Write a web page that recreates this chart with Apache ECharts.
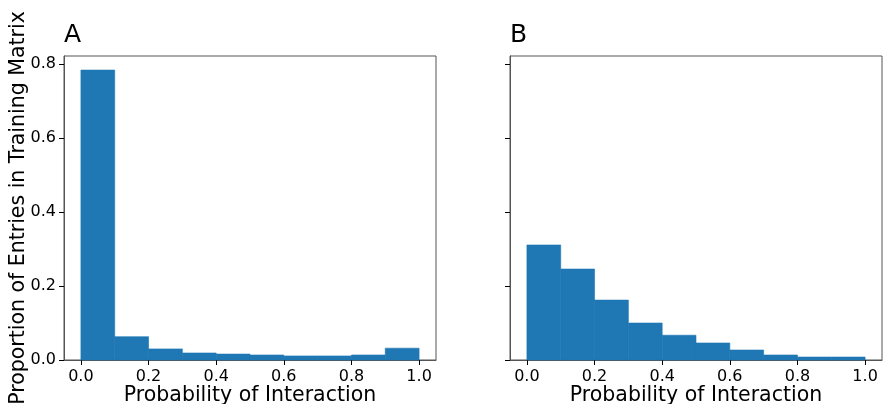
<!DOCTYPE html>
<html>
<head>
<meta charset="utf-8">
<script src="https://cdn.jsdelivr.net/npm/echarts@6/dist/echarts.min.js"></script>
<style>
html,body{margin:0;padding:0;background:#fff;}
#chart{width:883px;height:404px;}
</style>
</head>
<body>
<div id="chart"></div>
<script>
// Histogram bins (left edges), width 0.1
const binStarts = [0.0, 0.1, 0.2, 0.3, 0.4, 0.5, 0.6, 0.7, 0.8, 0.9];
const binWidth = 0.1;
// Panel A proportions
const valuesA = [0.784, 0.063, 0.030, 0.019, 0.016, 0.0135, 0.011, 0.011, 0.0135, 0.032];
// Panel B proportions
const valuesB = [0.311, 0.246, 0.162, 0.100, 0.067, 0.046, 0.027, 0.0135, 0.008, 0.008];
const xTicks = [0, 0.2, 0.4, 0.6, 0.8, 1.0];
const yTicks = [0, 0.2, 0.4, 0.6, 0.8];
const panelTitles = ['A', 'B'];
const xAxisName = 'Probability of Interaction';
const yAxisName = 'Proportion of Entries in Training Matrix';

const FONT = 'DejaVu Sans';
const BAR = '#1f77b4';
const SPINE = '#555555';

function histData(vals) {
  return vals.map((v, i) => [binStarts[i], binStarts[i] + binWidth, v]);
}

function renderBar(params, api) {
  const p0 = api.coord([api.value(0), 0]);
  const p1 = api.coord([api.value(1), api.value(2)]);
  return {
    type: 'rect',
    shape: { x: p0[0], y: p1[1], width: p1[0] - p0[0], height: p0[1] - p1[1] },
    style: { fill: BAR, stroke: BAR, lineWidth: 0.6 }
  };
}

function fmt(v) { return Number(v).toFixed(1); }

const grids = [
  { left: 64, top: 56, width: 372, height: 304, outerBoundsMode: 'none', containLabel: false, show: true, borderColor: SPINE, borderWidth: 1, backgroundColor: 'transparent' },
  { left: 510, top: 56, width: 372, height: 304, outerBoundsMode: 'none', containLabel: false, show: true, borderColor: SPINE, borderWidth: 1, backgroundColor: 'transparent' }
];

const xAxes = [0, 1].map(i => ({
  type: 'value', gridIndex: i, min: -0.05, max: 1.05,
  name: xAxisName, nameLocation: 'middle', nameGap: 25, nameMoveOverlap: false,
  nameTextStyle: { fontFamily: FONT, fontSize: 20.5, color: '#000' },
  axisLine: { show: true, onZero: false, lineStyle: { color: SPINE, width: 1 } },
  axisTick: { show: true, length: 5, customValues: xTicks, lineStyle: { color: '#000', width: 1 } },
  axisLabel: { show: true, customValues: xTicks, formatter: fmt, margin: 9, fontFamily: FONT, fontSize: 16, color: '#000' },
  splitLine: { show: false }
}));

const yAxes = [0, 1].map(i => ({
  type: 'value', gridIndex: i, min: 0, max: 0.822,
  name: i === 0 ? yAxisName : '', nameLocation: 'middle', nameGap: 35, nameMoveOverlap: false,
  nameTextStyle: { fontFamily: FONT, fontSize: 20.5, color: '#000' },
  axisLine: { show: true, onZero: false, lineStyle: { color: SPINE, width: 1 } },
  axisTick: { show: true, length: 5, customValues: yTicks, lineStyle: { color: '#000', width: 1 } },
  axisLabel: { show: i === 0, customValues: yTicks, formatter: fmt, margin: 8, fontFamily: FONT, fontSize: 16, color: '#000' },
  splitLine: { show: false }
}));

const chart = echarts.init(document.getElementById('chart'), null, { renderer: 'canvas' });
chart.setOption({
  animation: false,
  backgroundColor: '#fff',
  title: [
    { text: panelTitles[0], left: 64, top: 23, padding: 0, textStyle: { fontFamily: FONT, fontSize: 25, fontWeight: 'normal', color: '#000' } },
    { text: panelTitles[1], left: 510, top: 23, padding: 0, textStyle: { fontFamily: FONT, fontSize: 25, fontWeight: 'normal', color: '#000' } }
  ],
  grid: grids,
  xAxis: xAxes,
  yAxis: yAxes,
  series: [
    { type: 'custom', xAxisIndex: 0, yAxisIndex: 0, renderItem: renderBar, encode: { x: [0, 1], y: 2 }, data: histData(valuesA) },
    { type: 'custom', xAxisIndex: 1, yAxisIndex: 1, renderItem: renderBar, encode: { x: [0, 1], y: 2 }, data: histData(valuesB) }
  ]
});
</script>
</body>
</html>
